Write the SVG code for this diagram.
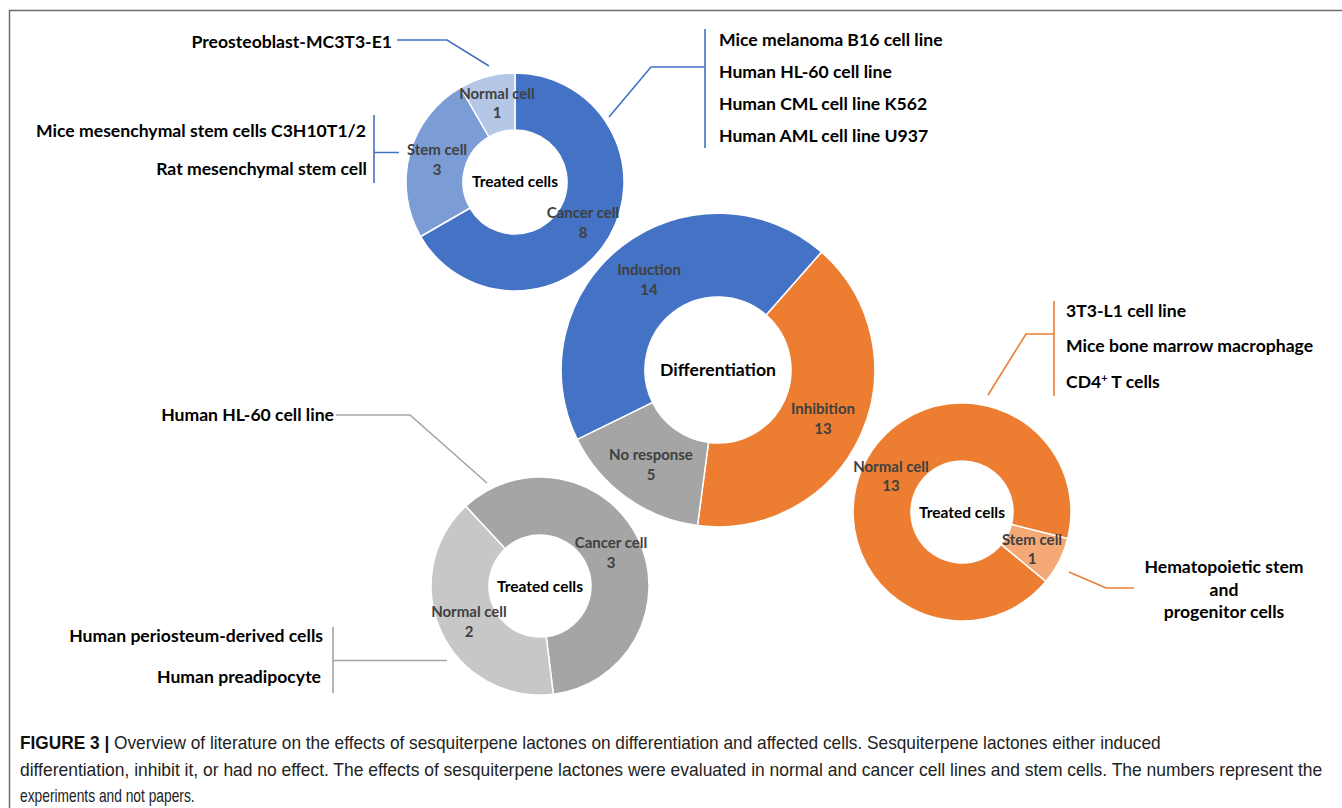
<svg xmlns="http://www.w3.org/2000/svg" width="1342" height="808" viewBox="0 0 1342 808">
<style>
.lbl{font-family:Lato,"Open Sans",sans-serif;font-weight:bold;font-size:17.6px;fill:#000}
.sl{font-family:Lato,"Open Sans",sans-serif;font-weight:bold;font-size:15px;fill:#404040;text-anchor:middle}
.ctr{font-family:Lato,"Open Sans",sans-serif;font-weight:bold;font-size:15.5px;fill:#000;text-anchor:middle}
.seg{stroke:#fff;stroke-width:1.5;stroke-linejoin:round}
.cb{fill:none;stroke:#4472C4;stroke-width:1.6}
.co{fill:none;stroke:#ED7D31;stroke-width:1.6}
.cg{fill:none;stroke:#A5A5A5;stroke-width:1.6}
.cap{font-family:"Liberation Sans",Arial,sans-serif;font-size:18px;fill:#222}
</style>
<rect width="1342" height="808" fill="#fff"/>
<path d="M9.5,808 V10.5 H1342" fill="none" stroke="#6b6b6b" stroke-width="1.5"/>

<g id="connectors">
<path class="cb" d="M397,40 H447 L489,66"/>
<path class="cb" d="M374,115 V183 M374,152.5 H399"/>
<path class="cb" d="M705,29 V148 M705,67 H651 L609,117"/>
<path class="co" d="M1054,301 V396 M1054,334 H1026 L988,395"/>
<path class="co" d="M1069,572 L1106,588 H1134"/>
<path class="cg" d="M336,415 H410 L487,483"/>
<path class="cg" d="M333,627 V693 M333,660.5 H447"/>
</g>

<g id="donut-top">
<path class="seg" fill="#4472C4" d="M515,73 A109,109 0 1 1 420.6,236.5 L470,208 A52,52 0 1 0 515,130 Z"/>
<path class="seg" fill="#7C9CD6" d="M420.6,236.5 A109,109 0 0 1 460.5,87.6 L489,137 A52,52 0 0 0 470,208 Z"/>
<path class="seg" fill="#B4C7E7" d="M460.5,87.6 A109,109 0 0 1 515,73 L515,130 A52,52 0 0 0 489,137 Z"/>
<text class="sl" x="497" y="99">Normal cell</text>
<text class="sl" x="497" y="118">1</text>
<text class="sl" x="437" y="155">Stem cell</text>
<text class="sl" x="437" y="175">3</text>
<text class="ctr" x="515" y="187">Treated cells</text>
<text class="sl" x="583" y="218">Cancer cell</text>
<text class="sl" x="583" y="238">8</text>
</g>

<g id="labels-top-left">
<text class="lbl" x="392" y="48" text-anchor="end">Preosteoblast-MC3T3-E1</text>
<text class="lbl" x="366" y="137" text-anchor="end">Mice mesenchymal stem cells C3H10T1/2</text>
<text class="lbl" x="367" y="175" text-anchor="end">Rat mesenchymal stem cell</text>
</g>

<g id="labels-top-right">
<text class="lbl" x="719" y="46">Mice melanoma B16 cell line</text>
<text class="lbl" x="719" y="78">Human HL-60 cell line</text>
<text class="lbl" x="719" y="110">Human CML cell line K562</text>
<text class="lbl" x="719" y="142">Human AML cell line U937</text>
</g>

<g id="donut-center">
<path class="seg" fill="#ED7D31" d="M821.5,252 A157,157 0 0 1 697.5,525.6 L708.5,442.4 A73,73 0 0 0 766.1,315.1 Z"/>
<path class="seg" fill="#A5A5A5" d="M697.5,525.6 A157,157 0 0 1 577.2,439.4 L652.5,402.3 A73,73 0 0 0 708.5,442.4 Z"/>
<path class="seg" fill="#4472C4" d="M577.2,439.4 A157,157 0 0 1 821.5,252 L766.1,315.1 A73,73 0 0 0 652.5,402.3 Z"/>
<text class="sl" x="649" y="275">Induction</text>
<text class="sl" x="649" y="295">14</text>
<text class="sl" x="823" y="414">Inhibition</text>
<text class="sl" x="823" y="434">13</text>
<text class="sl" x="651" y="460">No response</text>
<text class="sl" x="651" y="480">5</text>
<text class="ctr" x="718" y="376" style="font-size:17.6px">Differentiation</text>
</g>

<g id="donut-right">
<path class="seg" fill="#F4A977" d="M1067.8,538.4 A109,109 0 0 1 1045.9,581.6 L1001.2,544.6 A51,51 0 0 0 1011.5,524.3 Z"/>
<path class="seg" fill="#ED7D31" d="M1045.9,581.6 A109,109 0 1 1 1067.8,538.4 L1011.5,524.3 A51,51 0 1 0 1001.2,544.6 Z"/>
<text class="sl" x="891" y="472">Normal cell</text>
<text class="sl" x="891" y="491">13</text>
<text class="ctr" x="962" y="518">Treated cells</text>
<text class="sl" x="1032" y="545">Stem cell</text>
<text class="sl" x="1032" y="564">1</text>
</g>

<g id="labels-right">
<text class="lbl" x="1066" y="317">3T3-L1 cell line</text>
<text class="lbl" x="1066" y="352">Mice bone marrow macrophage</text>
<text class="lbl" x="1066" y="388">CD4<tspan dy="-6" style="font-size:11px">+</tspan><tspan dy="6"> T cells</tspan></text>
<text class="lbl" x="1224" y="573" text-anchor="middle">Hematopoietic stem</text>
<text class="lbl" x="1224" y="596" text-anchor="middle">and</text>
<text class="lbl" x="1224" y="618" text-anchor="middle">progenitor cells</text>
</g>

<g id="donut-bottom">
<path class="seg" fill="#A5A5A5" d="M465.7,506.3 A109,109 0 1 1 553.3,694.2 L546.2,636.6 A51,51 0 1 0 505.2,548.7 Z"/>
<path class="seg" fill="#C7C7C7" d="M553.3,694.2 A109,109 0 0 1 465.7,506.3 L505.2,548.7 A51,51 0 0 0 546.2,636.6 Z"/>
<text class="sl" x="611" y="548">Cancer cell</text>
<text class="sl" x="611" y="568">3</text>
<text class="ctr" x="540" y="592">Treated cells</text>
<text class="sl" x="469" y="617">Normal cell</text>
<text class="sl" x="469" y="637">2</text>
</g>

<g id="labels-bottom-left">
<text class="lbl" x="334" y="421" text-anchor="end">Human HL-60 cell line</text>
<text class="lbl" x="323" y="642" text-anchor="end">Human periosteum-derived cells</text>
<text class="lbl" x="321" y="683" text-anchor="end">Human preadipocyte</text>
</g>

<g id="caption" transform="matrix(0.82,0,0,1,20,0)">
<text class="cap" x="0" y="749" textLength="1391" lengthAdjust="spacingAndGlyphs"><tspan font-weight="bold" fill="#111">FIGURE 3 |</tspan> Overview of literature on the effects of sesquiterpene lactones on differentiation and affected cells. Sesquiterpene lactones either induced</text>
<text class="cap" x="0" y="776" textLength="1588" lengthAdjust="spacingAndGlyphs">differentiation, inhibit it, or had no effect. The effects of sesquiterpene lactones were evaluated in normal and cancer cell lines and stem cells. The numbers represent the</text>
<text class="cap" x="0" y="802" textLength="213" lengthAdjust="spacingAndGlyphs">experiments and not papers.</text>
</g>
</svg>
